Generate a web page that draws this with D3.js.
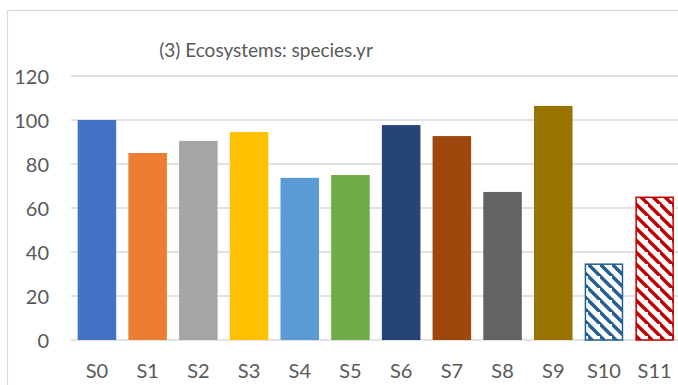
<!DOCTYPE html>
<html>
<head>
<meta charset="utf-8">
<script src="https://cdn.jsdelivr.net/npm/d3@7"></script>
<style>
  html, body { margin: 0; padding: 0; background: #fff; }
  svg text { font-family: Lato, "Open Sans", sans-serif; fill: #595959; }
</style>
</head>
<body>
<svg id="chart" width="678" height="385"></svg>
<script>
// Scenario results for the ecosystems indicator
const categories = ["S0", "S1", "S2", "S3", "S4", "S5", "S6", "S7", "S8", "S9", "S10", "S11"];
const values = [100, 85, 90.5, 94.5, 73.7, 75, 97.7, 92.7, 67.3, 106.4, 34.8, 65.2];
const colors = ["#4472C4", "#ED7D31", "#A5A5A5", "#FFC000", "#5B9BD5", "#70AD47",
                "#264478", "#9E480E", "#636363", "#997300", "#255E91", "#C00000"];
const hatched = [false, false, false, false, false, false, false, false, false, false, true, true];
const yTicks = [0, 20, 40, 60, 80, 100, 120];
const title = "(3) Ecosystems: species.yr";

const W = 678, H = 385;
const svg = d3.select("#chart");

// Diagonal stripe fills for the hatched scenarios
const defs = svg.append("defs");
categories.forEach((c, i) => {
  if (!hatched[i]) return;
  const p = defs.append("pattern")
    .attr("id", "hatch-" + c)
    .attr("patternUnits", "userSpaceOnUse")
    .attr("width", 12).attr("height", 12);
  p.append("rect").attr("width", 12).attr("height", 12).attr("fill", "#fff");
  p.append("path")
    .attr("d", "M-3,-3 L15,15 M-9,3 L3,15 M9,-9 L21,3")
    .attr("stroke", colors[i])
    .attr("stroke-width", 3.4)
    .attr("fill", "none");
});

// Chart frame
svg.append("rect")
  .attr("x", 7.5).attr("y", 10.5)
  .attr("width", W + 20).attr("height", H + 20)
  .attr("fill", "#fff")
  .attr("stroke", "#D9D9D9").attr("stroke-width", 1.2);

const x = d3.scaleBand()
  .domain(categories)
  .range([71.6, 680])
  .paddingInner(0.24)
  .paddingOuter(0.12);

const y = d3.scaleLinear().domain([0, 120]).range([340, 76]);

// Horizontal gridlines and value labels
const yAxis = d3.axisLeft(y).tickValues(yTicks).tickSize(0).tickPadding(0);
const gy = svg.append("g").attr("transform", "translate(71,0)").call(yAxis);
gy.select(".domain").remove();
gy.selectAll(".tick line").remove();
gy.selectAll(".tick text")
  .attr("x", -22)
  .attr("dy", "0.36em")
  .style("font-size", "20px")
  .style("font-family", "Lato, 'Open Sans', sans-serif")
  .attr("fill", "#595959");

svg.append("g").selectAll("line")
  .data(yTicks)
  .join("line")
  .attr("x1", 71).attr("x2", W)
  .attr("y1", d => y(d)).attr("y2", d => y(d))
  .attr("stroke", "#D9D9D9")
  .attr("stroke-width", 1.6);

// Bars
svg.append("g").selectAll("rect")
  .data(categories)
  .join("rect")
  .attr("x", (c, i) => x(c) + (hatched[i] ? 0.75 : 0))
  .attr("y", (c, i) => y(values[i]) + (hatched[i] ? 0.75 : 0))
  .attr("width", (c, i) => x.bandwidth() - (hatched[i] ? 1.5 : 0))
  .attr("height", (c, i) => y(0) - y(values[i]) - (hatched[i] ? 0.75 : 0))
  .attr("fill", (c, i) => hatched[i] ? "url(#hatch-" + c + ")" : colors[i])
  .attr("stroke", (c, i) => hatched[i] ? colors[i] : "none")
  .attr("stroke-width", 1.5);

// Category labels
const xAxis = d3.axisBottom(x).tickSize(0).tickPadding(0);
const gx = svg.append("g").attr("transform", "translate(0,340)").call(xAxis);
gx.select(".domain").remove();
gx.selectAll(".tick text")
  .attr("y", 38)
  .attr("dy", 0)
  .style("font-size", "20px")
  .style("font-family", "Lato, 'Open Sans', sans-serif")
  .attr("fill", "#595959");

// Title
svg.append("text")
  .attr("x", 266).attr("y", 57)
  .attr("text-anchor", "middle")
  .style("font-size", "19px")
  .text(title);
</script>
</body>
</html>
